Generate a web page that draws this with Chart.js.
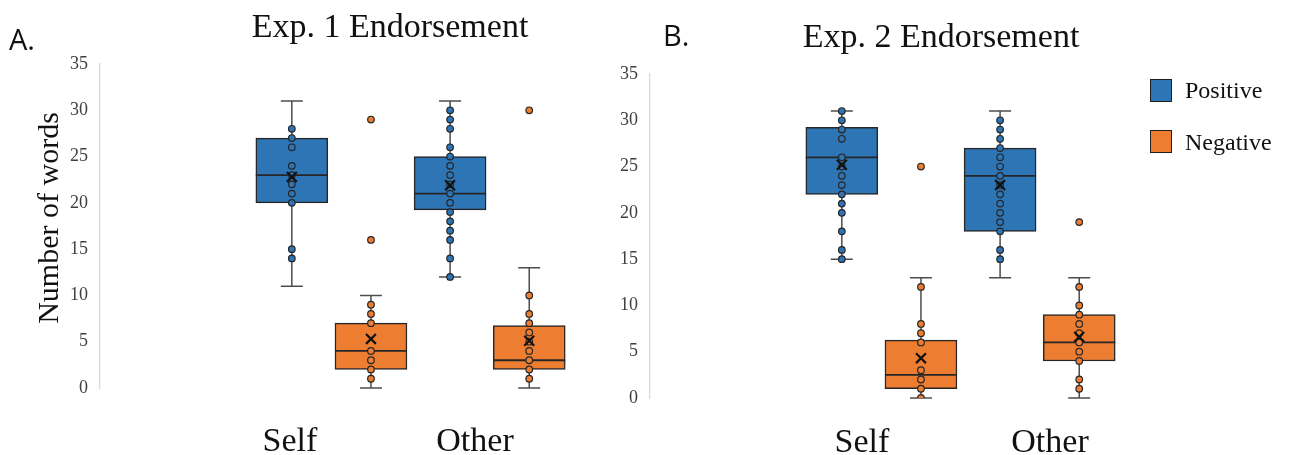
<!DOCTYPE html>
<html>
<head>
<meta charset="utf-8">
<script src="https://cdn.jsdelivr.net/npm/chart.js@4.4.1/dist/chart.umd.min.js"></script>
<style>
  body { margin: 0; width: 1293px; height: 455px; background: #fff; position: relative; overflow: hidden; font-family: 'Liberation Serif', serif; color: #111; }
  .panel { position: absolute; width: 600px; height: 455px; }
  .txt { position: absolute; line-height: 1; white-space: nowrap; }
  .title { font-size: 34px; transform: translateX(-50%); }
  .cat { font-size: 34px; transform: translateX(-50%); }
  .letter { font-family: 'Open Sans', sans-serif; font-size: 29px; }
  .ytitle { font-size: 30px; transform: translate(-50%, -50%) rotate(-90deg); }
  .legend-box { position: absolute; width: 20px; height: 21px; border: 1.5px solid #1f1f1f; }
  .legend-txt { font-size: 24px; }
</style>
</head>
<body>
<div class="panel" style="left:0;top:0"><canvas id="chartA"></canvas></div>
<div class="panel" style="left:550px;top:10px"><canvas id="chartB"></canvas></div>

<div class="txt letter" style="left:9px;top:24px">A.</div>
<div class="txt letter" style="left:663px;top:20px">B.</div>
<div class="txt title" id="titleA" style="left:390px;top:9px"></div>
<div class="txt title" id="titleB" style="left:941px;top:19px"></div>
<div class="txt ytitle" style="left:48px;top:218px">Number of words</div>
<div id="cats"></div>
<div id="legend"></div>

<script>
// Data
const categories = ['Self', 'Other'];
const seriesNames = ['Positive', 'Negative'];
const panelTitles = ['Exp. 1 Endorsement', 'Exp. 2 Endorsement'];
const yTicks = [0, 5, 10, 15, 20, 25, 30, 35];

// [min, q1, median, q3, max] per category
const exp1PositiveBox = [[11, 20, 23, 27, 31], [12, 19.25, 21, 25, 31]];
const exp1NegativeBox = [[0, 2, 4, 7, 10], [0, 2, 3, 6.75, 13]];
const exp1PositiveMean = [22.8, 21.9];
const exp1NegativeMean = [5.3, 5.1];
const exp1PositivePoints = [
    [28, 27, 26, 24, 23, 22, 21, 20, 15, 14],
    [30, 29, 28, 26, 25, 24, 23, 22, 21, 20, 19, 18, 17, 16, 14, 12]
];
const exp1NegativePoints = [
    [9, 8, 7, 4, 3, 2, 1],
    [10, 8, 7, 6, 5, 4, 3, 2, 1]
];
const exp1NegativeOutliers = [[29, 16], [30]];

const exp2PositiveBox = [[15, 22, 26, 29.25, 31], [13, 18, 24, 27, 31]];
const exp2NegativeBox = [[0, 1, 2.5, 6.25, 13], [0, 4, 6, 9, 13]];
const exp2PositiveMean = [25.2, 23];
const exp2NegativeMean = [4.3, 6.6];
const exp2PositivePoints = [
    [31, 30, 29, 28, 26, 25, 24, 23, 22, 21, 20, 18, 16, 15],
    [30, 29, 28, 27, 26, 25, 24, 23, 22, 21, 20, 19, 18, 16, 15]
];
const exp2NegativePoints = [
    [12, 8, 7, 6, 3, 2, 1, 0],
    [12, 10, 9, 8, 7, 6, 5, 4, 2, 1]
];
const exp2NegativeOutliers = [[25], [19]];

// Style
const BLUE = '#2e75b6';
const ORANGE = '#ed7d31';
const EDGE = '#262626';
const WHISKER = '#4d4d4d';
const OFFSET = 0.25;   // series offset from category centre (category units)

// whiskers + medians drawn from each bar dataset's summary through the scales
const boxPlotPlugin = {
    id: 'boxPlot',
    beforeDatasetsDraw(chart) {
        const ctx = chart.ctx;
        const y = chart.scales.y;
        chart.data.datasets.forEach((ds, di) => {
            if (!ds.summary) return;
            const meta = chart.getDatasetMeta(di);
            meta.data.forEach((bar, i) => {
                const s = ds.summary[i];
                const cx = bar.x;
                ctx.save();
                ctx.strokeStyle = WHISKER;
                ctx.lineWidth = 1.5;
                ctx.beginPath();
                ctx.moveTo(cx, y.getPixelForValue(s[0]));
                ctx.lineTo(cx, y.getPixelForValue(s[4]));
                [s[0], s[4]].forEach(v => {
                    const py = y.getPixelForValue(v);
                    ctx.moveTo(cx - 11, py);
                    ctx.lineTo(cx + 11, py);
                });
                ctx.stroke();
                ctx.restore();
            });
        });
    },
    afterDatasetDraw(chart, args) {
        const ds = chart.data.datasets[args.index];
        if (!ds.summary) return;
        const ctx = chart.ctx;
        const y = chart.scales.y;
        args.meta.data.forEach((bar, i) => {
            const py = y.getPixelForValue(ds.summary[i][2]);
            ctx.save();
            ctx.strokeStyle = EDGE;
            ctx.lineWidth = 1.8;
            ctx.beginPath();
            ctx.moveTo(bar.x - bar.width / 2, py);
            ctx.lineTo(bar.x + bar.width / 2, py);
            ctx.stroke();
            ctx.restore();
        });
    }
};

function boxDataset(label, summary, color, off) {
    return {
        type: 'bar',
        label: label,
        summary: summary,
        data: summary.map((s, i) => ({ x: i + off, y: [s[1], s[3]] })),
        backgroundColor: color,
        borderColor: EDGE,
        borderWidth: 1.5,
        borderSkipped: false,
        barThickness: 72,
        grouped: false,
        order: 3
    };
}

function pointDataset(label, groups, color, off) {
    return {
        type: 'scatter',
        label: label,
        data: groups.flatMap((g, i) => g.map(v => ({ x: i + off, y: v }))),
        pointStyle: 'circle',
        pointRadius: 3.3,
        backgroundColor: color,
        borderColor: EDGE,
        borderWidth: 1.2,
        order: 1
    };
}

function meanDataset(means, off) {
    return {
        type: 'scatter',
        label: 'mean',
        data: means.map((m, i) => ({ x: i + off, y: m })),
        pointStyle: 'crossRot',
        pointRadius: 7,
        borderColor: '#111',
        borderWidth: 2.2,
        order: 0
    };
}

function makePanel(id, posBox, negBox, posMean, negMean, posPts, negPts, negOut) {
    const ctx = document.getElementById(id).getContext('2d');
    return new Chart(ctx, {
        type: 'bar',
        data: {
            datasets: [
                boxDataset(seriesNames[0], posBox, BLUE, -OFFSET),
                boxDataset(seriesNames[1], negBox, ORANGE, OFFSET),
                pointDataset('pos points', posPts, BLUE, -OFFSET),
                pointDataset('neg points', negPts, ORANGE, OFFSET),
                pointDataset('neg outliers', negOut, ORANGE, OFFSET),
                meanDataset(posMean, -OFFSET),
                meanDataset(negMean, OFFSET)
            ]
        },
        options: {
            responsive: true,
            maintainAspectRatio: false,
            animation: false,
            layout: { padding: { top: 64, bottom: 67, left: 0, right: 0 } },
            plugins: { legend: { display: false }, tooltip: { enabled: false } },
            scales: {
                x: { type: 'linear', offset: false, min: -1.462, max: 1.639, display: false },
                y: {
                    min: yTicks[0],
                    max: yTicks[yTicks.length - 1],
                    afterBuildTicks: (scale) => { scale.ticks = yTicks.map(v => ({ value: v })); },
                    afterFit: (scale) => { scale.width = 100; },
                    grid: { display: false, drawTicks: false },
                    border: { display: true, color: '#d9d9d9', width: 1.3 },
                    ticks: {
                        padding: 12,
                        color: '#404040',
                        font: { family: "'Liberation Serif', serif", size: 18 }
                    }
                }
            }
        },
        plugins: [boxPlotPlugin]
    });
}

makePanel('chartA', exp1PositiveBox, exp1NegativeBox, exp1PositiveMean, exp1NegativeMean,
    exp1PositivePoints, exp1NegativePoints, exp1NegativeOutliers);
makePanel('chartB', exp2PositiveBox, exp2NegativeBox, exp2PositiveMean, exp2NegativeMean,
    exp2PositivePoints, exp2NegativePoints, exp2NegativeOutliers);

// Text overlays
document.getElementById('titleA').textContent = panelTitles[0];
document.getElementById('titleB').textContent = panelTitles[1];

const catPos = [[290, 475], [862, 1050]];
const catTop = [423, 424];
const catsEl = document.getElementById('cats');
catPos.forEach((xs, p) => {
    categories.forEach((c, i) => {
        const d = document.createElement('div');
        d.className = 'txt cat';
        d.style.left = xs[i] + 'px';
        d.style.top = catTop[p] + 'px';
        d.textContent = c;
        catsEl.appendChild(d);
    });
});

const legendEl = document.getElementById('legend');
[BLUE, ORANGE].forEach((col, i) => {
    const box = document.createElement('div');
    box.className = 'legend-box';
    box.style.left = '1150px';
    box.style.top = (79 + i * 51) + 'px';
    box.style.background = col;
    legendEl.appendChild(box);
    const t = document.createElement('div');
    t.className = 'txt legend-txt';
    t.style.left = '1185px';
    t.style.top = (78 + i * 52) + 'px';
    t.textContent = seriesNames[i];
    legendEl.appendChild(t);
});
</script>
</body>
</html>
